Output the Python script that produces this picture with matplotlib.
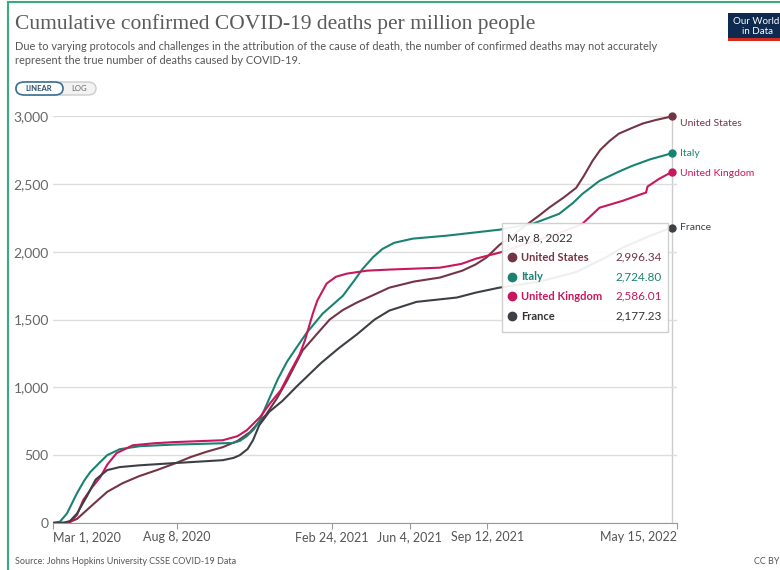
import numpy as np
import pandas as pd
from matplotlib import pyplot as plt
from matplotlib.patches import FancyBboxPatch, Rectangle
from matplotlib.ticker import FuncFormatter

plt.rcParams['font.family'] = ['Lato', 'DejaVu Sans']

# cumulative deaths per million
us_dates = ['2020-03-01', '2020-03-20', '2020-04-01', '2020-04-18', '2020-05-10', '2020-05-30',
            '2020-06-20', '2020-07-13', '2020-08-08', '2020-08-25', '2020-09-15', '2020-10-06',
            '2020-10-25', '2020-11-10', '2020-12-01', '2020-12-15', '2020-12-28', '2021-01-17',
            '2021-02-04', '2021-02-21', '2021-03-10', '2021-03-28', '2021-04-20', '2021-05-09',
            '2021-06-10', '2021-07-13', '2021-08-11', '2021-08-28', '2021-09-11', '2021-09-28',
            '2021-10-15', '2021-10-28', '2021-11-19', '2021-12-01', '2021-12-20', '2022-01-05',
            '2022-01-15', '2022-01-26', '2022-02-05', '2022-02-17', '2022-03-01', '2022-03-18',
            '2022-04-01', '2022-04-18', '2022-05-08']
us_vals = [0, 2, 30, 118, 230, 294, 345, 390, 445, 485, 525, 559, 605, 669, 800, 920, 1051,
           1272, 1390, 1500, 1570, 1625, 1685, 1735, 1780, 1809, 1860, 1905, 1956, 2050, 2120,
           2177, 2270, 2324, 2400, 2471, 2560, 2669, 2750, 2816, 2870, 2912, 2945, 2971, 2996.34]

it_dates = ['2020-03-01', '2020-03-10', '2020-03-19', '2020-04-01', '2020-04-10', '2020-04-18',
            '2020-05-01', '2020-05-10', '2020-05-26', '2020-06-21', '2020-08-03', '2020-08-25',
            '2020-10-19', '2020-10-28', '2020-11-06', '2020-11-15', '2020-11-23', '2020-12-06',
            '2020-12-16', '2020-12-28', '2021-01-10', '2021-01-22', '2021-02-12', '2021-03-10',
            '2021-03-25', '2021-04-04', '2021-04-18', '2021-04-30', '2021-05-15', '2021-06-08',
            '2021-07-22', '2021-09-28', '2021-11-10', '2021-12-14', '2022-01-01', '2022-01-13',
            '2022-02-04', '2022-03-01', '2022-03-18', '2022-04-10', '2022-05-08']
it_vals = [1, 10, 70, 220, 310, 375, 450, 500, 544, 566, 578, 581, 590, 605, 640, 690, 760, 930,
           1060, 1190, 1300, 1400, 1544, 1675, 1790, 1870, 1960, 2020, 2065, 2096, 2118, 2162,
           2206, 2279, 2360, 2426, 2522, 2590, 2632, 2680, 2724.80]

uk_dates = ['2020-03-01', '2020-03-15', '2020-03-23', '2020-04-01', '2020-04-09', '2020-04-20',
            '2020-05-01', '2020-05-10', '2020-05-22', '2020-06-12', '2020-07-10', '2020-08-03',
            '2020-10-06', '2020-10-25', '2020-11-06', '2020-11-23', '2020-12-06', '2020-12-20',
            '2020-12-31', '2021-01-13', '2021-01-20', '2021-01-30', '2021-02-05', '2021-02-17',
            '2021-03-01', '2021-03-15', '2021-04-10', '2021-05-09', '2021-07-13', '2021-08-10',
            '2021-08-29', '2021-09-28', '2021-11-19', '2021-12-20', '2022-01-13', '2022-01-25',
            '2022-02-04', '2022-03-06', '2022-03-31', '2022-04-05', '2022-04-07', '2022-04-22',
            '2022-05-08']
uk_vals = [0, 0.5, 5, 60, 169, 260, 338, 430, 515, 573, 588, 596, 610, 640, 684, 780, 882, 980,
           1103, 1240, 1346, 1540, 1640, 1765, 1815, 1838, 1860, 1868, 1882, 1910, 1949, 1993,
           2090, 2150, 2206, 2270, 2324, 2375, 2426, 2435, 2480, 2537, 2586.01]

fr_dates = ['2020-03-01', '2020-03-15', '2020-03-23', '2020-04-01', '2020-04-14', '2020-04-25',
            '2020-05-10', '2020-05-26', '2020-06-20', '2020-08-03', '2020-10-06', '2020-10-20',
            '2020-10-28', '2020-11-07', '2020-11-14', '2020-11-22', '2020-12-05', '2020-12-22',
            '2021-01-10', '2021-02-10', '2021-03-05', '2021-03-28', '2021-04-20', '2021-05-09',
            '2021-06-13', '2021-08-04', '2021-08-29', '2021-09-28', '2021-11-19', '2022-01-05',
            '2022-02-13', '2022-03-06', '2022-04-07', '2022-05-08']
fr_vals = [0, 2, 15, 70, 200, 320, 390, 412, 425, 441, 463, 480, 500, 545, 610, 720, 820, 900,
           1010, 1180, 1290, 1390, 1500, 1566, 1630, 1662, 1699, 1735, 1780, 1850, 1960, 2030,
           2110, 2177.23]

names = ['United States', 'Italy', 'United Kingdom', 'France']
colors = ['#733545', '#1a8272', '#c8175c', '#3c4045']
tick_dates = ['2020-03-01', '2020-08-08', '2021-02-24', '2021-06-04', '2021-09-12', '2022-05-15']
tick_labels = ['Mar 1, 2020', 'Aug 8, 2020', 'Feb 24, 2021', 'Jun 4, 2021', 'Sep 12, 2021', 'May 15, 2022']
y_ticks = [0, 500, 1000, 1500, 2000, 2500, 3000]

W, H = 780, 570
fig = plt.figure(figsize=(W / 100, H / 100), dpi=100)

def P(x, y):
  return (x / W, 1 - y / H)

ax = fig.add_axes([53 / W, (H - 523) / H, (677 - 53) / W, (523 - 116) / H])
series = [(us_dates, us_vals), (it_dates, it_vals), (uk_dates, uk_vals), (fr_dates, fr_vals)]
for (d, v), c in zip(series, colors):
  d = pd.to_datetime(d)
  ax.plot(d, v, color=c, lw=1.5, solid_joinstyle='round', zorder=3)
  ax.plot(d[-1], v[-1], 'o', color=c, ms=5, clip_on=False, zorder=4)

ax.set_xlim(pd.Timestamp('2020-03-01'), pd.Timestamp('2022-05-15'))
ax.set_ylim(0, 3000)
ax.set_yticks(y_ticks)
ax.yaxis.set_major_formatter(FuncFormatter(lambda v, p: '{:,.0f}'.format(v)))
ax.set_xticks(pd.to_datetime(tick_dates))
ax.set_xticklabels(tick_labels)
for lab, ha in zip(ax.get_xticklabels(), ['left', 'center', 'center', 'center', 'center', 'right']):
  lab.set_ha(ha)
ax.tick_params(axis='y', length=0, pad=3, labelsize=10, labelcolor='#666666')
ax.tick_params(axis='x', length=4, color='#999999', pad=2, labelsize=9, labelcolor='#555555')
ax.grid(axis='y', color='#dddddd', lw=1)
for s in ['top', 'right', 'left']:
  ax.spines[s].set_visible(False)
ax.spines['bottom'].set_color('#999999')
ax.axvline(pd.Timestamp('2022-05-08'), color='#cccccc', lw=1, zorder=1)

# end labels
offs = [-5, 0, -1, 0]
for (d, v), c, n, o in zip(series, colors, names, offs):
  ax.annotate(n, (pd.Timestamp(d[-1]), v[-1]), xytext=(6, o), textcoords='offset points',
              va='center', ha='left', fontsize=7.5, color=c, annotation_clip=False)

# tooltip
fig.patches.append(FancyBboxPatch(P(502, 332), 166 / W, 109 / H, boxstyle='square,pad=0',
                                  transform=fig.transFigure, fc='white', ec='#cccccc', alpha=0.92,
                                  lw=1, zorder=5))
fig.text(*P(507, 238), 'May 8, 2022', fontsize=8.5, color='#333333', va='center', zorder=6)
for i, (n, c, (d, v)) in enumerate(zip(names, colors, series)):
  yy = 257 + i * 19.7
  tc = c if i < 3 else '#333333'
  fig.add_artist(plt.Line2D([512 / W], [1 - yy / H], marker='o', ms=6, color=c, zorder=6))
  fig.text(*P(521, yy), n, fontsize=8, color=tc, fontweight='bold', va='center', zorder=6)
  fig.text(*P(662, yy), '{:,.2f}'.format(v[-1]), fontsize=8.5, color=tc,
           ha='right', va='center', zorder=6)

# header
fig.text(*P(15, 24), 'Cumulative confirmed COVID-19 deaths per million people', fontsize=15.5,
         family='Liberation Serif', color='#5b5b5b', va='center')
fig.text(*P(15, 46), 'Due to varying protocols and challenges in the attribution of the cause of death, '
         'the number of confirmed deaths may not accurately', fontsize=7.9, color='#555555', va='center')
fig.text(*P(15, 60), 'represent the true number of deaths caused by COVID-19.', fontsize=7.9,
         color='#555555', va='center')
fig.patches.append(FancyBboxPatch(P(16, 95), 80 / W, 13 / H, boxstyle='round,pad=0,rounding_size=0.011',
                                  transform=fig.transFigure, fc='#f2f2f2', ec='#cccccc', lw=1))
fig.patches.append(FancyBboxPatch(P(16, 95), 47 / W, 13 / H, boxstyle='round,pad=0,rounding_size=0.011',
                                  transform=fig.transFigure, fc='white', ec='#3b6f94', lw=1.2))
fig.text(*P(39, 88.5), 'LINEAR', fontsize=5.5, color='#2c4f6b', fontweight='bold', ha='center', va='center')
fig.text(*P(79, 88.5), 'LOG', fontsize=5.5, color='#666666', ha='center', va='center')

# logo
fig.patches.append(Rectangle(P(728, 38), 52 / W, 25 / H, transform=fig.transFigure, fc='#0e2a4f'))
fig.patches.append(Rectangle(P(728, 41), 52 / W, 3 / H, transform=fig.transFigure, fc='#d42b21'))
fig.text(*P(733, 21), 'Our World', fontsize=7, color='white', va='center')
fig.text(*P(742, 32), 'in Data', fontsize=7, color='white', va='center')

# footer
fig.text(*P(15, 562), 'Source: Johns Hopkins University CSSE COVID-19 Data', fontsize=6.5,
         color='#555555', va='center')
fig.text(*P(754, 562), 'CC BY', fontsize=6.5, color='#555555', va='center')

# frame
fig.add_artist(plt.Line2D([8 / W, 8 / W], [0, 1 - 2 / H], color='#3aaa7e', lw=1.5))
fig.add_artist(plt.Line2D([8 / W, 1], [1 - 2 / H, 1 - 2 / H], color='#3aaa7e', lw=1.5))

fig.savefig('out.png', dpi=100)
